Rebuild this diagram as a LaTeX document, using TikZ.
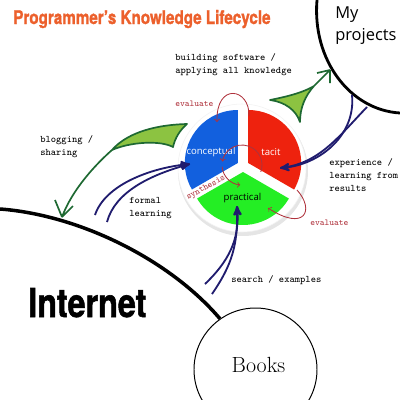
\documentclass[tikz,border=0pt]{standalone}
\usepackage{fontspec}
\newfontfamily\opensans{Open Sans}
\newfontfamily\heavy[FakeBold=1.5]{TeX Gyre Heros}
\usetikzlibrary{arrows}

\definecolor{titleorange}{RGB}{236,96,44}
\definecolor{navy}{RGB}{32,28,110}
\definecolor{leafdark}{RGB}{30,105,50}
\definecolor{leaf}{RGB}{140,195,65}
\definecolor{evalred}{RGB}{175,50,60}
\definecolor{conc}{RGB}{18,96,222}
\definecolor{tacit}{RGB}{238,34,14}
\definecolor{pract}{RGB}{36,238,36}

\begin{document}
\begin{tikzpicture}[
    x=0.25mm, y=-0.25mm,
    notetext/.style={font=\ttfamily\fontsize{7.1}{9.25}\selectfont, align=left, anchor=west, inner sep=0pt},
    evalnote/.style={font=\ttfamily\fontsize{6.4}{7}\selectfont, text=evalred, inner sep=0pt},
    slicetext/.style={font=\opensans\fontsize{6.8}{7}\selectfont, inner sep=0pt},
    learn/.style={draw=navy, line width=1.3pt, -stealth'},
    share/.style={draw=leafdark, fill=leaf, line width=1.2pt, line join=round},
    evalloop/.style={draw=evalred, line width=0.6pt, ->}
]
    \useasboundingbox (0,0) rectangle (400,400);

    \node[anchor=base west, inner sep=0pt, text=titleorange] (title) at (13,24)
        {\resizebox{183pt}{10pt}{\heavy\bfseries Programmer’s Knowledge Lifecycle}};

    % places
    \draw[line width=2pt] (317,0) .. controls (312,60) and (350,110) .. (400,113);
    \node[anchor=west, inner sep=0pt, align=left, font=\opensans\fontsize{11.7}{15.6}\selectfont]
        (projects) at (335,26) {My\\projects};
    \node[circle, draw, line width=0.7pt, minimum size=30.75mm, inner sep=0pt] (books) at (255.5,369.5) {};
    \node[anchor=base, inner sep=0pt, font=\fontsize{15.6}{16}\selectfont] (bookslbl) at (258.5,372) {Books};
    \coordinate (netend) at (0,209);
    \draw[line width=2.5pt] (netend) .. controls (80,215) and (170,260) .. (books.125);
    \node[anchor=base west, inner sep=0pt] (internet) at (28,317)
        {\resizebox{84pt}{20.6pt}{\heavy\bfseries Internet}};

    % wheel
    \fill[gray!20] (243,171) circle (65);
    \node[circle, fill=white, draw=gray!10, minimum size=32mm, inner sep=0pt] (wheel) at (242,168) {};
    \foreach \col/\a/\b/\m in {conc/150/270/210, tacit/270/390/330, pract/30/150/90}
        \fill[\col, shift={(\m:6)}] (243,166) -- ++(\a:53) arc[start angle=\a, end angle=\b, radius=53] -- cycle;
    \node[slicetext, white] (conceptual) at (211,152) {conceptual};
    \node[slicetext, white] (tacitlbl) at (271,152) {tacit};
    \node[slicetext] (practical) at (242.5,198) {practical};

    % evaluate / synthesis
    \coordinate (evalTs) at (249,116);
    \coordinate (evalTe) at (217,122);
    \draw[evalloop] (evalTs) .. controls (250,88) and (216,82) .. (evalTe);
    \node[evalnote, anchor=west] (evalT) at (175,104) {evaluate};
    \coordinate (evalBs) at (297,190);
    \coordinate (evalBe) at (268,208);
    \draw[evalloop] (evalBs) .. controls (315,210) and (305,232) .. (evalBe);
    \node[evalnote, anchor=west] (evalB) at (310,223) {evaluate};
    \coordinate (syn) at (242,165);
    \draw[evalloop] (syn) ++(20:20) arc[start angle=20, end angle=-170, radius=20];
    \draw[evalloop] (syn) ++(-185:20) arc[start angle=-185, end angle=-265, radius=20];
    \node[evalnote, rotate=29] (synthesis) at (206,188) {synthesis};

    % learning arrows
    \coordinate (formalA) at (95,215);
    \coordinate (formalB) at (107,222);
    \coordinate (conctip) at (190,164);
    \draw[learn] (formalA) .. controls (105,185) and (150,168) .. (conctip);
    \draw[learn] (formalB) .. controls (115,192) and (150,175) .. (conctip);
    \coordinate (expA) at (352,95);
    \coordinate (expB) at (367,107);
    \coordinate (tacittip) at (280,168);
    \draw[learn] (expA) .. controls (356,135) and (320,165) .. (tacittip);
    \draw[learn] (expB) .. controls (340,135) and (320,163) .. (tacittip);
    \coordinate (srchA) at (205,284);
    \coordinate (srchB) at (212,294);
    \coordinate (practtip) at (237,206);
    \draw[learn] (srchA) .. controls (228,262) and (240,240) .. (practtip);
    \draw[learn] (srchB) .. controls (232,265) and (238,245) .. (practtip);

    % sharing arrows
    \coordinate (buildL) at (270,100);
    \coordinate (buildB) at (300,122);
    \coordinate (buildA) at (314,86);
    \coordinate (buildH) at (330,70);
    \filldraw[share] (buildL) .. controls (290,96) and (304,92) .. (buildA)
        .. controls (305,96) and (300,108) .. (buildB) .. controls (296,110) and (285,102) .. cycle;
    \draw[share, fill=none] (buildA) -- (buildH) (buildH) -- ++(-13,3) (buildH) -- ++(0,13);
    \coordinate (blogT) at (187,124);
    \coordinate (blogB) at (173,147);
    \coordinate (blogM) at (112,150);
    \coordinate (blogH) at (62,217);
    \filldraw[share] (blogT) .. controls (150,125) and (125,135) .. (blogM)
        .. controls (130,142) and (160,140) .. (blogB) .. controls (175,138) and (180,130) .. cycle;
    \draw[share, fill=none] (blogM) .. controls (95,165) and (72,190) .. (blogH)
        (blogH) -- ++(-7,-17) (blogH) -- ++(11,-11);

    % labels
    \node[notetext] (building) at (175,64.5) {building software /\\applying all knowledge};
    \node[notetext] (blogging) at (40,146.5) {blogging /\\sharing};
    \node[notetext] (formal) at (129,208.5) {formal\\learning};
    \node[notetext] (experience) at (329,175) {experience /\\learning from\\results};
    \node[notetext] (search) at (231,280) {search / examples};
\end{tikzpicture}
\end{document}
